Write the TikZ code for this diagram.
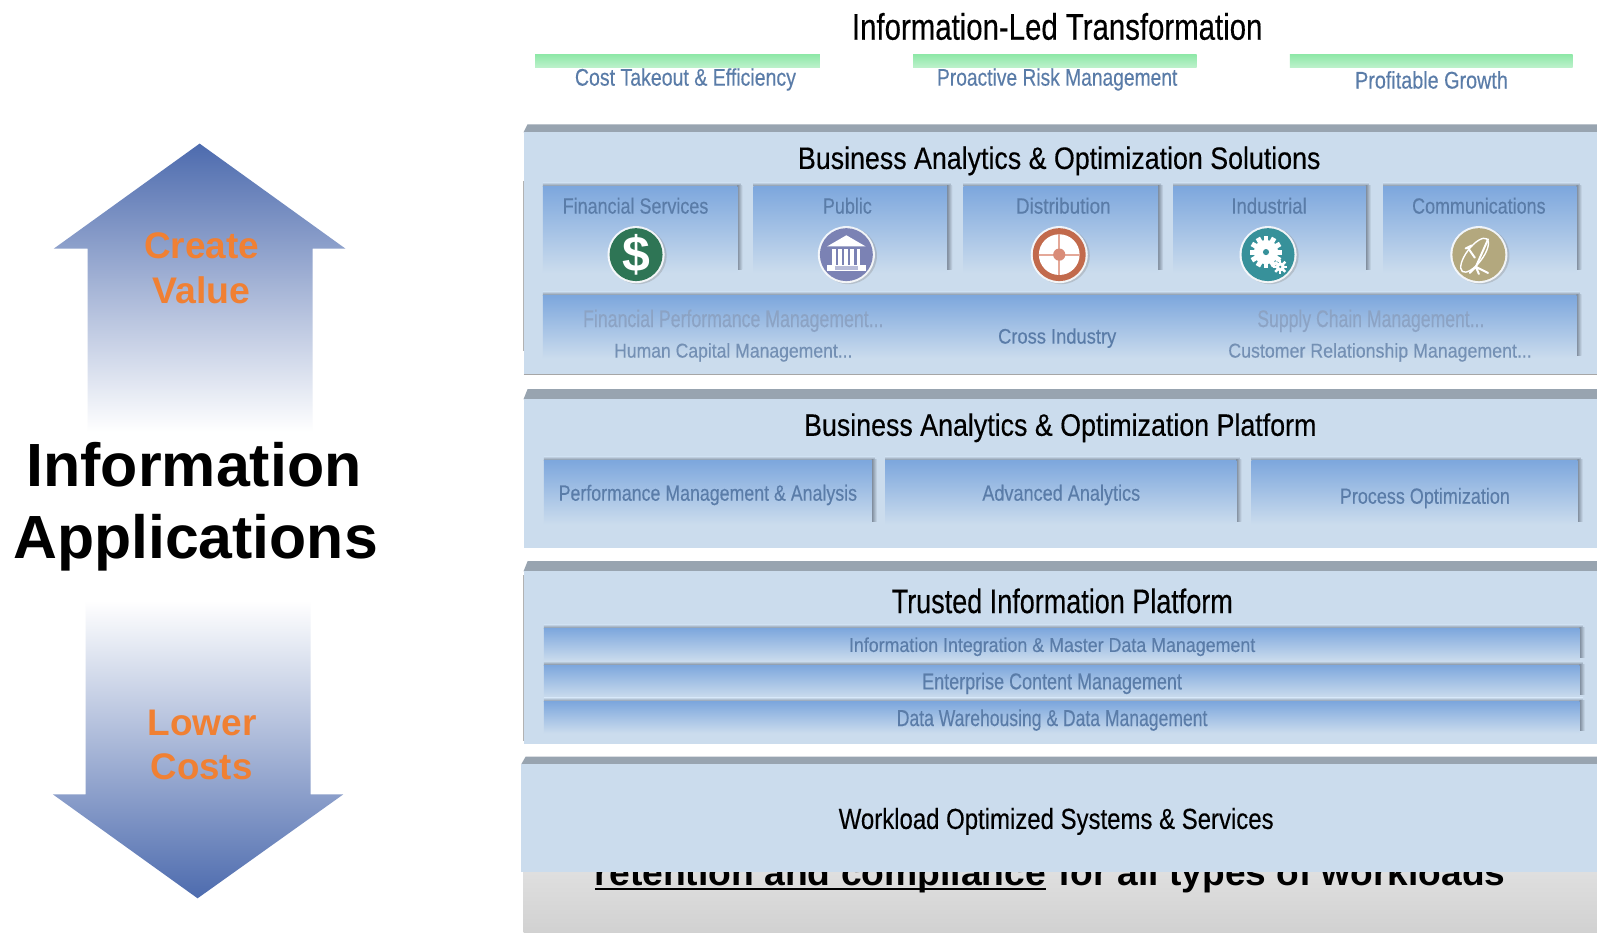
\documentclass[tikz,border=0pt]{standalone}
\usepackage{fontspec}
\setmainfont[FakeBold=0.35,BoldFeatures={FakeBold=0}]{Liberation Sans}
\usepackage{graphicx}
\definecolor{panel}{HTML}{CBDCED}
\definecolor{band}{HTML}{98A4B0}
\definecolor{tiletop}{HTML}{7DA7DD}
\definecolor{shadowc}{HTML}{7F8C9C}
\definecolor{lbl}{HTML}{5A7CA8}
\definecolor{lblfade}{HTML}{8CA3C4}
\definecolor{lblmid}{HTML}{7490B4}
\definecolor{greenbar}{HTML}{8FE8A8}
\definecolor{arrowblue}{HTML}{4D6BAE}
\definecolor{orangec}{HTML}{F08033}
\definecolor{icgreen}{HTML}{2E7555}
\definecolor{icbank}{HTML}{7B82B4}
\definecolor{icbanklt}{HTML}{B8BCD8}
\definecolor{icorange}{HTML}{C26A4C}
\definecolor{icpink}{HTML}{E4A898}
\definecolor{icpinkd}{HTML}{D98C78}
\definecolor{icteal}{HTML}{37919A}
\definecolor{ictan}{HTML}{B3A87E}
\newsavebox{\fitbox}
% width in reference units, font size in pt, text
\newcommand{\fitw}[3]{\sbox{\fitbox}{\fontsize{#2}{#2}\selectfont #3}\pgfmathsetmacro{\fitr}{#1*1.0185/\the\wd\fitbox}\scalebox{\fitr}[1]{\usebox{\fitbox}}}
\newcommand{\panelshape}[4]{% left, band top, body top, bottom
  \fill[band] (#1,#3) -- (#1+4,#2) -- (1568,#2) -- (1568,#3) -- cycle;
  \fill[panel] (#1,#3) rectangle (1568,#4);}
\newcommand{\tile}[4]{% x1,y1,x2,y2
  \shade[top color=panel,bottom color=shadowc] (#1,#2-4) rectangle (#3+3,#2);
  \shade[left color=shadowc,right color=panel] (#3,#2-1) rectangle (#3+5,#4-3);
  \shade[top color=tiletop,bottom color=panel] (#1,#2) rectangle (#3,#4);}
\tikzset{
  x=1.0185pt,y=-1.0185pt,
  txt/.style={inner sep=0pt,outer sep=0pt,anchor=center},
}
\begin{document}
\begin{tikzpicture}
\useasboundingbox (0,0) rectangle (1568,916);
\fill[white] (0,0) rectangle (1568,916);

% left arrows
\shade[top color=arrowblue,bottom color=white] (196,141) -- (339,244) -- (307,244) -- (307,424) -- (86,424) -- (86,244) -- (53,244) -- cycle;
\shade[top color=white,bottom color=arrowblue] (194,882) -- (337,780) -- (305,780) -- (305,590) -- (84,590) -- (84,780) -- (52,780) -- cycle;
\node[txt,text=orangec,font=\bfseries] (create) at (198,241) {\fitw{113}{37}{Create}};
\node[txt,text=orangec,font=\bfseries] (value) at (198,285) {\fitw{96}{37}{Value}};
\node[txt,text=orangec,font=\bfseries] (lower) at (198.5,709.5) {\fitw{107}{37}{Lower}};
\node[txt,text=orangec,font=\bfseries] (costs) at (198,752.5) {\fitw{100}{37}{Costs}};
\node[txt,font=\bfseries] (info) at (190.5,456) {\fitw{329}{61}{Information}};
\node[txt,font=\bfseries] (appl) at (192,533) {\fitw{358}{61}{Applications}};

% header
\node[txt] (title) at (1038,26) {\fitw{403}{37}{Information-Led Transformation}};
\foreach \a/\b/\c/\d in {525.5/805/53.5/66,896.5/1175/53.5/66,1266.5/1544/53.5/66}
  \shade[top color=greenbar,bottom color=greenbar!60!white] (\a,\c) rectangle (\b,\d);
\node[txt,text=lbl] (cost) at (673,78) {\fitw{217}{24}{Cost Takeout \& Efficiency}};
\node[txt,text=lbl] (risk) at (1038,78) {\fitw{236}{24}{Proactive Risk Management}};
\node[txt,text=lbl] (growth) at (1405.5,78.5) {\fitw{150}{24}{Profitable Growth}};

% bottom grey block with the clipped sentence
\shade[top color=black!12,bottom color=black!18] (514,850) rectangle (1568,916);
\node[txt,anchor=base west,font=\bfseries] (ret) at (584,869) {\fitw{443}{36}{retention and compliance}};
\node[txt,anchor=base west,font=\bfseries] (rest) at (1039,869) {\fitw{439}{36}{for all types of workloads}};
\draw[line width=2pt] ([yshift=-4pt]ret.base west) -- ([yshift=-4pt]ret.base east);

% panel 1
\panelshape{514}{122}{130}{367}
\draw[black!35,line width=.8pt] (514,367.5) -- (1568,367.5);
\draw[black!30,line width=.5pt] (513.5,178) -- (513.5,345);
\node[txt] (solutions) at (1040,158) {\fitw{513}{31}{Business Analytics \& Optimization Solutions}};
\tile{533}{183}{724}{268}
\tile{740}{183}{930}{268}
\tile{946}{183}{1137}{268}
\tile{1152}{183}{1341}{268}
\tile{1358}{183}{1548}{268}
\tile{533}{290}{1548}{352}
\node[txt,text=lbl] (fin) at (624,202) {\fitw{143}{22}{Financial Services}};
\node[txt,text=lbl] (pub) at (832,202) {\fitw{48}{22}{Public}};
\node[txt,text=lbl] (dist) at (1044,202) {\fitw{93}{22}{Distribution}};
\node[txt,text=lbl] (ind) at (1246,202) {\fitw{74}{22}{Industrial}};
\node[txt,text=lbl] (comm) at (1452,202) {\fitw{131}{22}{Communications}};
\node[txt,text=lblfade] (fpm) at (720,315) {\fitw{295}{24}{Financial Performance Management...}};
\node[txt,text=lblmid] (hcm) at (720,346) {\fitw{234}{20}{Human Capital Management...}};
\node[txt,text=lbl] (cross) at (1038,332) {\fitw{116}{21}{Cross Industry}};
\node[txt,text=lblfade] (scm) at (1346,315) {\fitw{223}{24}{Supply Chain Management...}};
\node[txt,text=lblmid] (crm) at (1355,346) {\fitw{298}{20}{Customer Relationship Management...}};

% icons
\foreach \cx in {624.5,831,1040,1245,1452}{
  \fill[black!45,opacity=.35] (\cx+2,251) circle[radius=28];
  \fill[white,opacity=.85] (\cx,250) circle[radius=28];
}
% dollar
\fill[icgreen] (624.5,250) circle[radius=26];
\node[txt,text=white,font=\bfseries] (dollar) at (624.5,250) {\fontsize{50}{50}\selectfont\$};
% bank
\begin{scope}[shift={(831,250)}]
  \fill[icbank] (0,0) circle[radius=26];
  \fill[white] (0,-19) -- (19,-8) -- (-19,-8) -- cycle;
  \foreach \i in {-14,-8,-2,4,10} \fill[white] (\i,-6) rectangle (\i+3.5,10);
  \fill[white] (-19,10) rectangle (19,16);
  \fill[icbanklt] (-11,11) rectangle (11,15);
\end{scope}
% lifebuoy
\begin{scope}[shift={(1040,250)}]
  \fill[icorange] (0,0) circle[radius=26];
  \fill[white] (0,0) circle[radius=20];
  \draw[icpink,line width=2pt] (-20,0) -- (20,0) (0,-20) -- (0,20);
  \fill[icpinkd] (0,0) circle[radius=6];
\end{scope}
% gears
\begin{scope}[shift={(1245,250)}]
  \fill[icteal] (0,0) circle[radius=26];
  \begin{scope}[shift={(-2,-2.5)}]
    \foreach \r in {0,30,...,330} \fill[white,rotate=\r] (-2.4,-16) rectangle (2.4,-9);
    \fill[white] (0,0) circle[radius=12];
    \fill[icteal] (0,0) circle[radius=3];
  \end{scope}
  \begin{scope}[shift={(12,12)}]
    \foreach \r in {0,45,...,315} \fill[white,rotate=\r] (-1.2,-7) rectangle (1.2,-3);
    \fill[white] (0,0) circle[radius=4.5];
    \fill[icteal] (0,0) circle[radius=1.2];
  \end{scope}
\end{scope}
% satellite dish
\begin{scope}[shift={(1452,250)}]
  \fill[ictan] (0,0) circle[radius=26];
  \draw[white,line width=1.4pt,rotate=53] (-3,-3) ellipse[x radius=20,y radius=8];
  \draw[white,line width=2pt,line cap=round] (9,-15) -- (-3,12) (-3,12) -- (0,19) (-3,12) -- (-9,18) (-3,12) -- (9,18) (-11,-7) -- (-4,3) (-13,-6) -- (-7,-9);
\end{scope}

% panel 2
\panelshape{514}{382}{392}{538}
\node[txt] (platform) at (1041,420) {\fitw{503}{31}{Business Analytics \& Optimization Platform}};
\tile{534}{452}{856}{515}
\tile{869}{452}{1214}{515}
\tile{1229}{452}{1549}{515}
\node[txt,text=lbl] (pma) at (695,486) {\fitw{293}{22}{Performance Management \& Analysis}};
\node[txt,text=lbl] (aa) at (1042,486) {\fitw{155}{22}{Advanced Analytics}};
\node[txt,text=lbl] (po) at (1399,489) {\fitw{167}{22}{Process Optimization}};

% panel 3
\panelshape{514}{551}{561}{730}
\draw[black!30,line width=.5pt] (513.5,565) -- (513.5,728);
\node[txt] (trusted) at (1043,590) {\fitw{335}{34}{Trusted Information Platform}};
\tile{534}{617}{1551}{649}
\tile{534}{653}{1551}{685}
\tile{534}{689}{1551}{720}
\node[txt,text=lbl] (iim) at (1033,635) {\fitw{399}{20}{Information Integration \& Master Data Management}};
\node[txt,text=lbl] (ecm) at (1033,671) {\fitw{255}{23}{Enterprise Content Management}};
\node[txt,text=lbl] (dwm) at (1033,707) {\fitw{305}{23}{Data Warehousing \& Data Management}};

% panel 4
\panelshape{512}{743}{750}{856}
\node[txt] (workload) at (1037,806.5) {\fitw{427}{29}{Workload Optimized Systems \& Services}};
\end{tikzpicture}
\end{document}
